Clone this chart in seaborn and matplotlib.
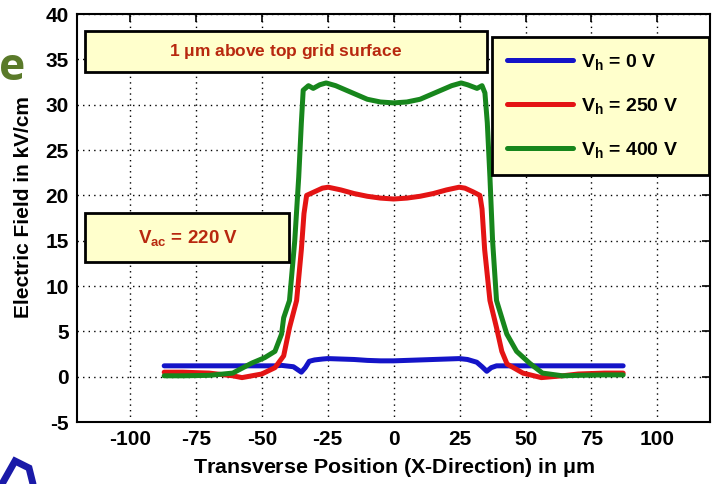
import numpy as np
import pandas as pd
import matplotlib
matplotlib.use("Agg")
import matplotlib.pyplot as plt
from matplotlib.patches import Rectangle
from matplotlib.lines import Line2D
import seaborn as sns

# ---- data: electric field 1 um above the top grid surface ----
x_v0 = [-87, -80, -70, -60, -50, -45, -42.5, -38, -35, -33.5, -32, -30, -27, -25, -20, -15,
        -10, -5, 0, 5, 10, 15, 20, 25, 28, 31.5, 33.5, 35.3, 37, 39, 45, 50, 60, 70, 80, 87]
e_v0 = [1.2, 1.2, 1.2, 1.2, 1.2, 1.2, 1.25, 1.1, 0.5, 1.0, 1.7, 1.85, 1.95, 2.0, 1.95, 1.9,
        1.8, 1.75, 1.75, 1.8, 1.85, 1.9, 1.95, 2.0, 1.9, 1.6, 1.1, 0.6, 1.0, 1.2, 1.2, 1.2, 1.2, 1.2, 1.2, 1.2]

x_v250 = [-87, -80, -70, -61, -57.5, -50, -45, -41.7, -39.5, -36.8, -35, -34, -33, -30, -27, -24.8,
          -20, -15, -10, -5, 0, 5, 10, 15, 20, 24.8, 27, 30, 32.7, 33.5, 34.5, 36.5, 39, 41, 43,
          49, 56, 64, 70, 80, 87]
e_v250 = [0.5, 0.5, 0.4, 0.1, -0.1, 0.3, 1.0, 2.3, 5.4, 8.4, 14.0, 18.0, 20.0, 20.4, 20.8, 20.9,
          20.6, 20.2, 19.9, 19.7, 19.6, 19.7, 19.9, 20.2, 20.6, 20.9, 20.8, 20.4, 20.0, 18.5, 14.0,
          8.4, 5.4, 2.8, 1.4, 0.4, -0.1, 0.1, 0.3, 0.4, 0.4]

x_v400 = [-87, -80, -70, -61, -53.8, -48.9, -45, -42.5, -41.7, -39.5, -37.5, -36, -35, -34.3,
          -32.3, -30.5, -28, -25.6, -22, -18, -14, -10, -5, 0, 5, 10, 14, 18, 22, 25.6, 28, 31.6,
          33.5, 34.6, 35.5, 36.5, 37.5, 39, 41, 42.9, 46.6, 51.5, 56.4, 64, 70, 80, 87]
e_v400 = [0.1, 0.1, 0.15, 0.4, 1.5, 2.1, 2.8, 4.7, 6.5, 8.4, 15.0, 22.0, 28.0, 31.6,
          32.1, 31.8, 32.2, 32.4, 32.1, 31.6, 31.1, 30.6, 30.3, 30.2, 30.3, 30.6, 31.1, 31.6, 32.1,
          32.4, 32.2, 31.8, 32.1, 31.3, 28.0, 22.0, 15.0, 8.4, 6.5, 4.7, 2.8, 1.5, 0.4, 0.1, 0.15,
          0.2, 0.2]

series_labels = [r"$\mathbf{V_h}$ = 0 V", r"$\mathbf{V_h}$ = 250 V", r"$\mathbf{V_h}$ = 400 V"]
series_colors = ["#1414c8", "#e41414", "#17861c"]
x_ticks = [-100, -75, -50, -25, 0, 25, 50, 75, 100]
y_ticks = [-5, 0, 5, 10, 15, 20, 25, 30, 35, 40]

frames = []
for xs, es, lab in zip([x_v0, x_v250, x_v400], [e_v0, e_v250, e_v400], series_labels):
    frames.append(pd.DataFrame({"x": xs, "E": es, "series": lab}))
df = pd.concat(frames, ignore_index=True)

# ---- style ----
sns.set_style("white")
plt.rcParams["font.family"] = ["Liberation Sans", "DejaVu Sans"]
plt.rcParams["font.weight"] = "bold"
for key in ["text.color", "axes.labelcolor", "xtick.color", "ytick.color"]:
    plt.rcParams[key] = "black"
plt.rcParams["mathtext.fontset"] = "custom"
plt.rcParams["mathtext.bf"] = "Liberation Sans:bold"
plt.rcParams["mathtext.rm"] = "Liberation Sans:bold"
plt.rcParams["mathtext.it"] = "Liberation Sans:bold"

fig = plt.figure(figsize=(7.21, 4.84), dpi=100)
ax = fig.add_axes([0.107, 0.128, 0.878, 0.843])

sns.lineplot(data=df, x="x", y="E", hue="series", hue_order=series_labels,
             palette=series_colors, sort=False, estimator=None, linewidth=3.6,
             ax=ax, legend=True)

ax.set_xlim(-120, 120)
ax.set_ylim(-5, 40)
ax.set_xticks(x_ticks)
ax.set_yticks(y_ticks)
ax.set_xticklabels([str(t) for t in x_ticks])
ax.set_yticklabels([str(t) for t in y_ticks])
ax.tick_params(axis="both", direction="in", length=6, width=1.2, top=True, right=True,
               labelsize=15, colors="black", pad=6)
for lbl in ax.get_xticklabels() + ax.get_yticklabels():
    lbl.set_fontweight("bold")
ax.grid(True, linestyle=(0, (1, 3)), color="black", linewidth=1.0)
for sp in ax.spines.values():
    sp.set_color("black")
    sp.set_linewidth(1.5)

ax.set_xlabel(r"Transverse Position (X-Direction) in $\mathbf{\mu}$m", fontsize=15.4, fontweight="bold")
ax.set_ylabel("Electric Field in kV/cm", fontsize=15, fontweight="bold")
ax.xaxis.set_label_coords(0.5, -0.083)
ax.yaxis.set_label_coords(-0.0695, 0.527)

# annotation boxes
box_kw = dict(facecolor="#ffffcc", edgecolor="black", linewidth=2, zorder=5)
ax.add_patch(Rectangle((-117, 33.6), 152.3, 4.5, **box_kw))
ax.text(-41, 35.9, r"1 $\mathbf{\mu}$m above top grid surface", color="#b8280f",
        fontsize=12.5, fontweight="bold", ha="center", va="center", zorder=6)
ax.add_patch(Rectangle((-117, 12.6), 77.5, 5.5, **box_kw))
ax.text(-78, 15.3, r"$\mathbf{V_{ac}}$ = 220 V", color="#b8280f",
        fontsize=13.5, fontweight="bold", ha="center", va="center", zorder=6)

leg = ax.legend(loc="upper left", bbox_to_anchor=(0.6556, 0.6076, 0.343, 0.336),
                mode="expand", fontsize=14,
                frameon=True, fancybox=False, framealpha=1, facecolor="#ffffcc",
                edgecolor="black", handlelength=3.4, handletextpad=0.4,
                labelspacing=1.25, borderpad=0.75, borderaxespad=0.0)
leg.get_frame().set_linewidth(2)
for ln in leg.get_lines():
    ln.set_linewidth(3.6)
leg.set_zorder(7)

# slide fragments around the figure
fig.text(25 / 721, 1 - 68 / 484, "e", color="#5a7a2a", fontsize=32, fontweight="bold",
         family=["Open Sans", "DejaVu Sans"], ha="right", va="center")
fig.add_artist(Line2D(np.array([2, 15, 29, 33]) / 721, 1 - np.array([484, 461, 468, 484]) / 484,
                      color="#1a1aa8", linewidth=5, solid_joinstyle="miter"))

fig.savefig("out.png", dpi=100)
